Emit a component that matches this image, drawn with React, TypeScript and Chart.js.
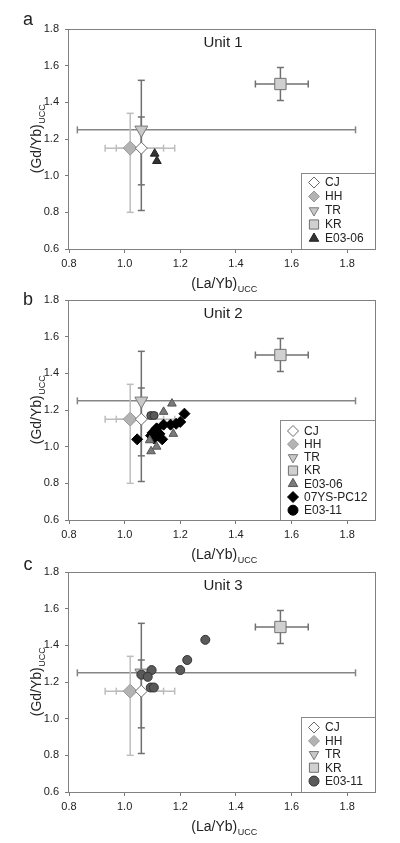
import React, { useEffect, useRef } from 'react';
import { Chart, registerables } from 'chart.js';
import * as helpers from 'chart.js/helpers';

Chart.register(...registerables);

const FONT = '"Liberation Sans", Arial, sans-serif';

// Axis ticks
const X_TICKS = [0.8, 1.0, 1.2, 1.4, 1.6, 1.8];
const Y_TICKS = [0.6, 0.8, 1.0, 1.2, 1.4, 1.6, 1.8];
const X_MIN = 0.8, X_MAX = 1.9, Y_MIN = 0.6, Y_MAX = 1.8;

// Reference sources (CJ, HH, TR, KR) with ranges
const REF_NAMES = ['CJ', 'HH', 'TR', 'KR'];
const REF_X = [1.06, 1.02, 1.06, 1.56];
const REF_Y = [1.15, 1.15, 1.25, 1.50];
const REF_X_LO = [0.97, 0.93, 0.83, 1.47];
const REF_X_HI = [1.18, 1.14, 1.83, 1.66];
const REF_Y_LO = [0.81, 0.80, 0.95, 1.41];
const REF_Y_HI = [1.52, 1.34, 1.32, 1.59];

// Unit 1 samples
const U1_E0306_X = [1.108, 1.116];
const U1_E0306_Y = [1.12, 1.08];

// Unit 2 samples
const U2_E0306_X = [1.17, 1.14, 1.09, 1.175, 1.115, 1.095];
const U2_E0306_Y = [1.235, 1.19, 1.035, 1.07, 1.0, 0.975];
const U2_07YS_X = [1.045, 1.095, 1.10, 1.11, 1.115, 1.105, 1.12, 1.135, 1.14, 1.165, 1.185, 1.20, 1.215, 1.125];
const U2_07YS_Y = [1.04, 1.06, 1.075, 1.09, 1.10, 1.045, 1.06, 1.04, 1.12, 1.12, 1.125, 1.135, 1.18, 1.07];
const U2_E0311_X = [1.094, 1.106];
const U2_E0311_Y = [1.17, 1.17];

// Unit 3 samples
const U3_E0311_X = [1.29, 1.225, 1.2, 1.097, 1.06, 1.083, 1.094, 1.105];
const U3_E0311_Y = [1.43, 1.32, 1.265, 1.265, 1.24, 1.228, 1.17, 1.17];

type Sty = { style: string; fill: string; stroke: string; r: number; rot?: number; lr?: number };

const REF_STYLES: Sty[] = [
  { style: 'rectRot', fill: '#ffffff', stroke: '#6a6a6a', r: 6, lr: 5.5 },
  { style: 'rectRot', fill: '#b3b3b3', stroke: '#9a9a9a', r: 7, lr: 5.5 },
  { style: 'triangle', fill: '#c8c8c8', stroke: '#7a7a7a', r: 7.5, rot: 180, lr: 5.5 },
  { style: 'rect', fill: '#d0d0d0', stroke: '#707070', r: 8, lr: 6.5 },
];
const REF_HBAR_COLORS = ['#bdbdbd', '#bdbdbd', '#858585', '#707070'];
const REF_VBAR_COLORS = ['#707070', '#bdbdbd', '#707070', '#707070'];

const zip = (xs: number[], ys: number[]) => xs.map((x, i) => ({ x, y: ys[i] }));

function markerDataset(label: string, data: any[], s: Sty) {
  return {
    type: 'scatter',
    label,
    data,
    order: 0,
    pointStyle: s.style,
    pointRotation: s.rot || 0,
    pointRadius: s.r,
    pointBackgroundColor: s.fill,
    pointBorderColor: s.stroke,
    pointBorderWidth: 1,
    showLine: false,
  };
}

function errorDatasets() {
  const out: any[] = [];
  REF_NAMES.forEach((_, i) => {
    out.push({
      type: 'scatter', label: '', order: 2, showLine: true,
      data: [{ x: REF_X_LO[i], y: REF_Y[i] }, { x: REF_X_HI[i], y: REF_Y[i] }],
      borderColor: REF_HBAR_COLORS[i], borderWidth: 1.5,
      pointStyle: 'line', pointRotation: 90, pointRadius: 3.5,
      pointBorderColor: REF_HBAR_COLORS[i], pointBorderWidth: 1.5,
    });
    out.push({
      type: 'scatter', label: '', order: 1, showLine: true,
      data: [{ x: REF_X[i], y: REF_Y_LO[i] }, { x: REF_X[i], y: REF_Y_HI[i] }],
      borderColor: REF_VBAR_COLORS[i], borderWidth: 1.5,
      pointStyle: 'line', pointRotation: 0, pointRadius: 3.5,
      pointBorderColor: REF_VBAR_COLORS[i], pointBorderWidth: 1.5,
    });
  });
  return out;
}

function refDatasets() {
  return REF_NAMES.map((n, i) => markerDataset(n, [{ x: REF_X[i], y: REF_Y[i] }], REF_STYLES[i]));
}

const S_E0306_DARK: Sty = { style: 'triangle', fill: '#333333', stroke: '#222222', r: 5, lr: 5.5 };
const S_E0306_GRAY: Sty = { style: 'triangle', fill: '#7a7a7a', stroke: '#555555', r: 5, lr: 5.5 };
const S_07YS: Sty = { style: 'rectRot', fill: '#000000', stroke: '#000000', r: 5.5, lr: 5.5 };
const S_E0311_B: Sty = { style: 'circle', fill: '#5a5a5a', stroke: '#333333', r: 4, lr: 5 };
const S_E0311_LEG_B: Sty = { style: 'circle', fill: '#000000', stroke: '#000000', r: 5, lr: 5 };
const S_E0311_C: Sty = { style: 'circle', fill: '#5a5a5a', stroke: '#333333', r: 4.5, lr: 5 };

type Panel = {
  letter: string; letterY: number; unit: string;
  samples: { label: string; data: any[]; s: Sty; legS?: Sty }[];
  legW: number; legH: number; legFirst: number; legStep: number;
};

const PANELS: Panel[] = [
  {
    letter: 'a', letterY: 25, unit: 'Unit 1',
    samples: [{ label: 'E03-06', data: zip(U1_E0306_X, U1_E0306_Y), s: S_E0306_DARK }],
    legW: 74, legH: 76, legFirst: 9.5, legStep: 14,
  },
  {
    letter: 'b', letterY: 34, unit: 'Unit 2',
    samples: [
      { label: 'E03-06', data: zip(U2_E0306_X, U2_E0306_Y), s: S_E0306_GRAY },
      { label: '07YS-PC12', data: zip(U2_07YS_X, U2_07YS_Y), s: S_07YS },
      { label: 'E03-11', data: zip(U2_E0311_X, U2_E0311_Y), s: S_E0311_B, legS: S_E0311_LEG_B },
    ],
    legW: 95, legH: 100, legFirst: 11, legStep: 13.2,
  },
  {
    letter: 'c', letterY: 27, unit: 'Unit 3',
    samples: [{ label: 'E03-11', data: zip(U3_E0311_X, U3_E0311_Y), s: S_E0311_C }],
    legW: 74, legH: 75, legFirst: 10.5, legStep: 13.4,
  },
];

const PANEL_TOPS = [0, 271, 543];

function drawSubText(ctx: CanvasRenderingContext2D, main: string, sub: string, cx: number, baseY: number) {
  ctx.font = `14px ${FONT}`;
  const w1 = ctx.measureText(main).width;
  ctx.font = `9px ${FONT}`;
  const w2 = ctx.measureText(sub).width;
  const start = cx - (w1 + w2) / 2;
  ctx.textAlign = 'left';
  ctx.textBaseline = 'alphabetic';
  ctx.font = `14px ${FONT}`;
  ctx.fillText(main, start, baseY);
  ctx.font = `9px ${FONT}`;
  ctx.fillText(sub, start + w1 + 0.5, baseY + 3.5);
}

function makePlugin(p: Panel) {
  return {
    id: 'decor' + p.letter,
    afterDatasetsDraw(chart: any) {
      const { ctx, chartArea: a } = chart;
      ctx.save();
      // legend box
      const bx = Math.round(a.right - p.legW);
      const by = Math.round(a.bottom - p.legH);
      ctx.fillStyle = '#ffffff';
      ctx.fillRect(bx, by, p.legW, p.legH);
      ctx.strokeStyle = '#8a8a8a';
      ctx.lineWidth = 1;
      ctx.strokeRect(bx + 0.5, by + 0.5, p.legW, p.legH);
      const items: { label: string; s: Sty }[] = REF_NAMES.map((n, i) => ({ label: n, s: REF_STYLES[i] }));
      p.samples.forEach((sm) => items.push({ label: sm.label, s: sm.legS || sm.s }));
      items.forEach((it, i) => {
        const y = by + p.legFirst + i * p.legStep;
        ctx.fillStyle = it.s.fill;
        ctx.strokeStyle = it.s.stroke;
        ctx.lineWidth = 1;
        helpers.drawPoint(ctx, { pointStyle: it.s.style, rotation: it.s.rot || 0, radius: it.s.lr || 5, borderWidth: 1 } as any, bx + 13, y);
        ctx.fillStyle = '#222222';
        ctx.font = `12px ${FONT}`;
        ctx.textAlign = 'left';
        ctx.textBaseline = 'middle';
        ctx.fillText(it.label, bx + 24, y + 0.5);
      });
      // frame
      ctx.strokeStyle = '#808080';
      ctx.lineWidth = 1;
      ctx.strokeRect(Math.round(a.left) - 0.5, Math.round(a.top) + 0.5, Math.round(a.right - a.left) + 1, Math.round(a.bottom - a.top));
      ctx.restore();
    },
    afterDraw(chart: any) {
      const { ctx, chartArea: a } = chart;
      ctx.save();
      ctx.fillStyle = '#222222';
      // unit label
      ctx.font = `15px ${FONT}`;
      ctx.textAlign = 'center';
      ctx.textBaseline = 'middle';
      ctx.fillText(p.unit, (a.left + a.right) / 2 + 1, a.top + 14);
      // panel letter
      ctx.font = `18px ${FONT}`;
      ctx.textAlign = 'center';
      ctx.textBaseline = 'alphabetic';
      ctx.fillText(p.letter, 28, p.letterY);
      // x title
      drawSubText(ctx, '(La/Yb)', 'UCC', (a.left + a.right) / 2 + 2, a.bottom + 39);
      // y title
      ctx.save();
      ctx.translate(41, (a.top + a.bottom) / 2);
      ctx.rotate(-Math.PI / 2);
      drawSubText(ctx, '(Gd/Yb)', 'UCC', 0, 0);
      ctx.restore();
      ctx.restore();
    },
  };
}

function PanelChart({ p, top }: { p: Panel; top: number }) {
  const ref = useRef<HTMLCanvasElement | null>(null);
  useEffect(() => {
    if (!ref.current) return;
    const datasets: any[] = [
      ...p.samples.map((sm) => markerDataset(sm.label, sm.data, sm.s)),
      ...refDatasets(),
      ...errorDatasets(),
    ];
    const chart = new Chart(ref.current, {
      type: 'scatter',
      data: { datasets },
      options: {
        animation: false,
        responsive: false,
        devicePixelRatio: 1,
        events: [],
        layout: { padding: { top: 29, left: 0, right: 25, bottom: 31 } },
        plugins: { legend: { display: false }, tooltip: { enabled: false }, title: { display: false } },
        scales: {
          x: {
            type: 'linear', min: X_MIN, max: X_MAX,
            afterBuildTicks: (s: any) => { s.ticks = X_TICKS.map((v) => ({ value: v })); },
            afterFit: (s: any) => { s.height = 20; },
            ticks: {
              callback: (v: any) => Number(v).toFixed(1),
              font: { family: FONT, size: 11 }, color: '#222222', padding: 4,
              maxRotation: 0, autoSkip: false,
            },
            grid: { display: true, drawOnChartArea: false, drawTicks: true, tickLength: 4, color: '#7a7a7a' },
            border: { display: false },
          },
          y: {
            type: 'linear', min: Y_MIN, max: Y_MAX,
            afterBuildTicks: (s: any) => { s.ticks = Y_TICKS.map((v) => ({ value: v })); },
            afterFit: (s: any) => { s.width = 69; },
            ticks: {
              callback: (v: any) => Number(v).toFixed(1),
              font: { family: FONT, size: 11 }, color: '#222222', padding: 6,
              autoSkip: false,
            },
            grid: { display: true, drawOnChartArea: false, drawTicks: true, tickLength: 4, color: '#7a7a7a' },
            border: { display: false },
          },
        },
      } as any,
      plugins: [makePlugin(p)],
    } as any);
    return () => chart.destroy();
  }, [p]);
  return (
    <div style={{ position: 'absolute', left: 0, top, width: 400, height: 300 }}>
      <canvas ref={ref} width={400} height={300} style={{ width: 400, height: 300, display: 'block' }} />
    </div>
  );
}

export default function App() {
  return (
    <div style={{ position: 'absolute', left: 0, top: 0, width: 400, height: 843, background: '#ffffff', overflow: 'hidden' }}>
      {PANELS.map((p, i) => (
        <PanelChart key={p.letter} p={p} top={PANEL_TOPS[i]} />
      ))}
    </div>
  );
}
